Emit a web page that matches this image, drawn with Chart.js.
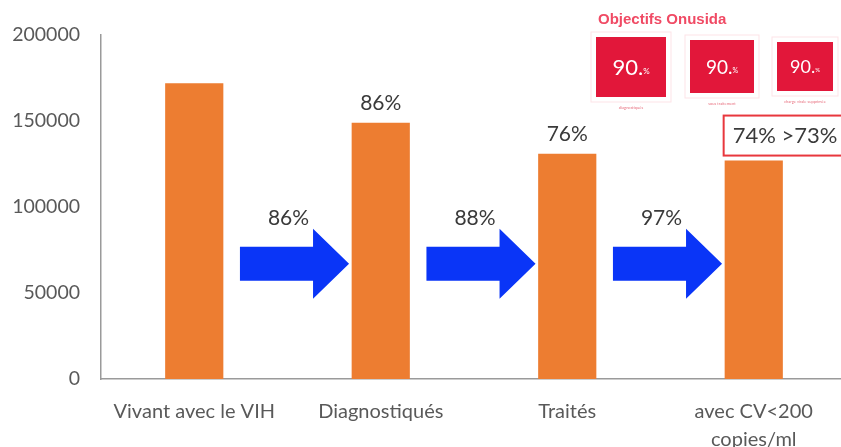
<!DOCTYPE html>
<html>
<head>
<meta charset="utf-8">
<script src="https://cdn.jsdelivr.net/npm/chart.js@4.4.1/dist/chart.umd.min.js"></script>
<style>
  html, body { margin: 0; padding: 0; background: #fff; overflow: hidden; }
  #wrap { width: 847px; height: 447px; position: relative; }
</style>
</head>
<body>
<div id="wrap"><canvas id="cascade"></canvas></div>
<script>
// cascade data
const categories = ['Vivant avec le VIH', 'Diagnostiqués', 'Traités', ['avec CV<200', 'copies/ml']];
const patients = [172000, 149000, 131000, 127000];
const barLabels = ['', '86%', '76%', '74% >73%'];
const stepLabels = ['86%', '88%', '97%'];
const yTicks = [0, 50000, 100000, 150000, 200000];
const targetTitle = 'Objectifs Onusida';
const targetValues = ['90', '90', '90'];
const targetCaptions = ['diagnostiqués', 'sous traitement', 'charge virale supprimée'];

const labelFont = '21px Lato';
const labelColor = '#3a3a3a';

// arrows, percentages and the UNAIDS target panel
const cascadePlugin = {
    id: 'cascade',
    afterDatasetsDraw(chart) {
        const ctx = chart.ctx;
        const xs = chart.scales.x;
        const ys = chart.scales.y;
        const meta = chart.getDatasetMeta(0);
        const step = xs.getPixelForValue(1) - xs.getPixelForValue(0);
        const yc = ys.getPixelForValue(67000);

        ctx.save();
        ctx.font = labelFont;
        ctx.textBaseline = 'middle';

        // blue arrows between the bars
        stepLabels.forEach((lbl, i) => {
            const x0 = xs.getPixelForValue(i) + step * 0.245;
            const x1 = xs.getPixelForValue(i + 1) - step * 0.17;
            const xh = x1 - 36;
            ctx.fillStyle = '#0a35f7';
            ctx.beginPath();
            ctx.moveTo(x0, yc - 17);
            ctx.lineTo(xh, yc - 17);
            ctx.lineTo(xh, yc - 35);
            ctx.lineTo(x1, yc);
            ctx.lineTo(xh, yc + 35);
            ctx.lineTo(xh, yc + 17);
            ctx.lineTo(x0, yc + 17);
            ctx.closePath();
            ctx.fill();

            ctx.fillStyle = labelColor;
            ctx.textAlign = 'center';
            ctx.fillText(lbl, (x0 + x1) / 2 - 6, yc - 46);
        });

        // labels above the bars
        meta.data.forEach((bar, i) => {
            const txt = barLabels[i];
            if (!txt) return;
            ctx.fillStyle = labelColor;
            if (i === barLabels.length - 1) {
                const left = bar.x - bar.width / 2 - 1;
                ctx.strokeStyle = '#e8373d';
                ctx.lineWidth = 2;
                ctx.strokeRect(left, bar.y - 45, 130, 40);
                ctx.font = '22px Lato';
                ctx.textAlign = 'left';
                ctx.fillText(txt, left + 9, bar.y - 25);
            } else {
                ctx.textAlign = 'center';
                ctx.fillText(txt, bar.x, bar.y - 19);
            }
        });

        // Objectifs Onusida panel
        ctx.fillStyle = '#f04a64';
        ctx.font = 'bold 15px "Liberation Sans"';
        ctx.textAlign = 'left';
        ctx.fillText(targetTitle, 598, 20);

        const boxes = [[596, 37, 70, 60], [690, 40, 64, 53], [777, 42, 56, 49]];
        boxes.forEach((b, i) => {
            const [bx, by, bw, bh] = b;
            ctx.strokeStyle = 'rgba(227, 24, 55, 0.12)';
            ctx.lineWidth = 1;
            ctx.strokeRect(bx - 5, by - 5, bw + 10, bh + 10);
            ctx.fillStyle = '#e2173a';
            ctx.fillRect(bx, by, bw, bh);

            const fs = Math.round(bh * 0.36);
            ctx.font = fs + 'px Lato';
            const main = targetValues[i] + '.';
            const mw = ctx.measureText(main).width;
            ctx.font = Math.round(fs * 0.35) + 'px Lato';
            const pw = ctx.measureText('%').width;
            const start = bx + bw / 2 - (mw + pw) / 2;
            ctx.fillStyle = '#ffffff';
            ctx.font = fs + 'px Lato';
            ctx.textAlign = 'left';
            ctx.fillText(main, start, by + bh / 2 + 1);
            ctx.font = Math.round(fs * 0.35) + 'px Lato';
            ctx.fillText('%', start + mw, by + bh / 2 + fs * 0.2);

            ctx.fillStyle = '#e8707f';
            ctx.font = '4px Lato';
            ctx.textAlign = 'center';
            ctx.fillText(targetCaptions[i], bx + bw / 2, by + bh + 11);
        });

        ctx.restore();
    }
};

new Chart(document.getElementById('cascade'), {
    type: 'bar',
    data: {
        labels: categories,
        datasets: [{
            data: patients,
            backgroundColor: '#ed7d31',
            borderWidth: 0,
            categoryPercentage: 1,
            barPercentage: 0.312
        }]
    },
    options: {
        responsive: true,
        maintainAspectRatio: false,
        animation: false,
        layout: { padding: { top: 35, left: 0, right: 0, bottom: 0 } },
        plugins: {
            legend: { display: false },
            tooltip: { enabled: false }
        },
        scales: {
            x: {
                grid: { display: false, drawTicks: false },
                border: { display: true, color: '#9a9a9a', width: 1.5 },
                ticks: {
                    color: '#595959',
                    font: { family: 'Lato', size: 20, lineHeight: 1.4 },
                    padding: 19,
                    maxRotation: 0,
                    autoSkip: false
                },
                afterFit(scale) { scale.height = 68; }
            },
            y: {
                min: 0,
                max: 200000,
                grid: { display: false, drawTicks: false },
                border: { display: true, color: '#9a9a9a', width: 1.5 },
                ticks: {
                    color: '#595959',
                    font: { family: 'Lato', size: 19.5 },
                    padding: 21,
                    callback: v => String(v)
                },
                afterBuildTicks(scale) { scale.ticks = yTicks.map(v => ({ value: v })); },
                afterFit(scale) { scale.width = 101; }
            }
        }
    },
    plugins: [cascadePlugin]
});
</script>
</body>
</html>
